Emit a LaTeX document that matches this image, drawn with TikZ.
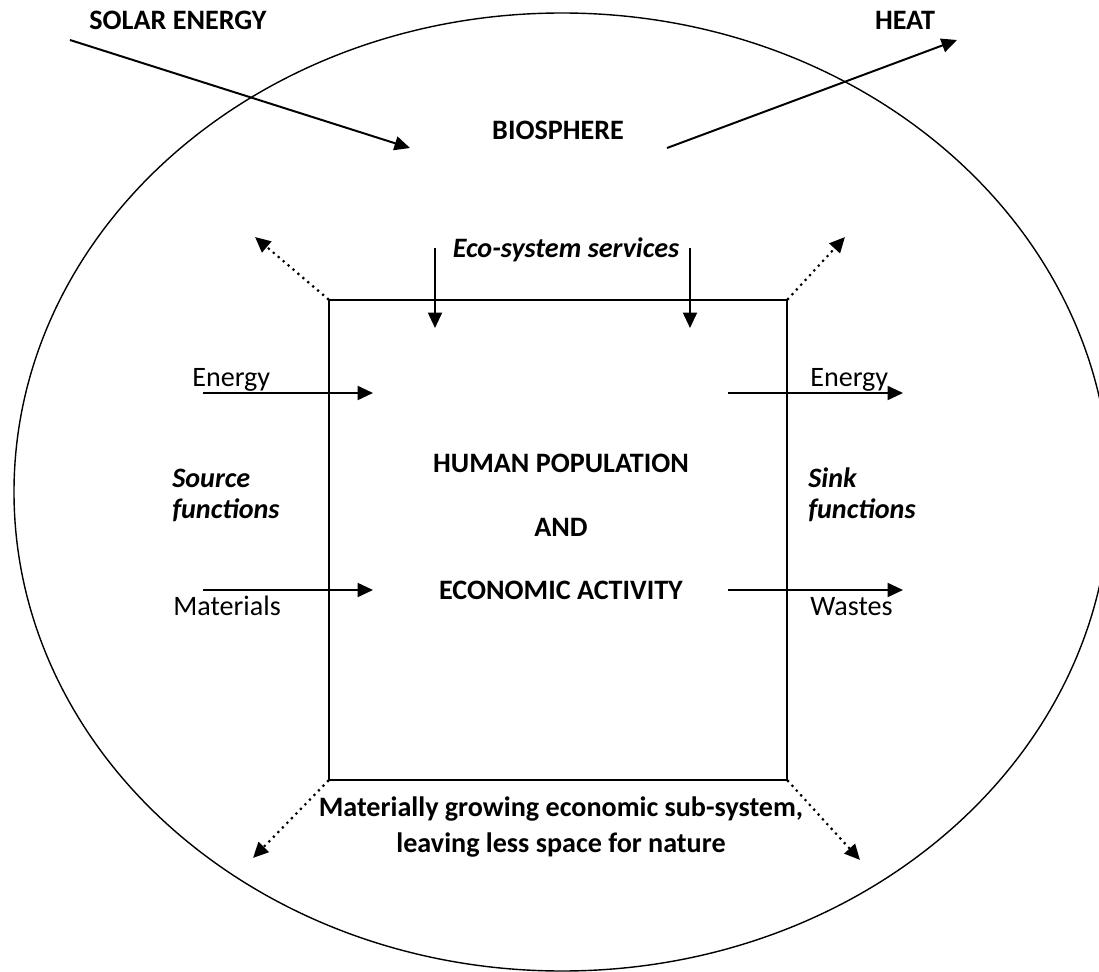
\documentclass[tikz,border=0pt]{standalone}
\usepackage{fontspec}
\setmainfont{Carlito}
\usetikzlibrary{arrows.meta}
\tikzset{
  flow/.style={line width=1.4pt,-{Triangle[length=11pt,width=10pt]}},
  leak/.style={line width=2.2pt,dash pattern=on 0pt off 4.6pt,line cap=round,
    -{Triangle[length=11pt,width=10pt]}},
  txt/.style={inner sep=0pt,font=\fontsize{20}{22}\selectfont},
  bold/.style={inner sep=0pt,font=\fontsize{20}{22}\selectfont\bfseries},
  boldit/.style={inner sep=0pt,font=\fontsize{20}{22}\selectfont\bfseries\itshape},
}
\begin{document}
\begin{tikzpicture}[x=0.025cm,y=-0.025cm]
  \useasboundingbox (0,0) rectangle (1099,972);
  % biosphere
  \draw[line width=1pt] (562,492) ellipse [x radius=548, y radius=479];
  \node[bold] (bio) at (558,130) {BIOSPHERE};
  % sun in, heat out
  \node[bold] (solar) at (178,20) {SOLAR ENERGY};
  \node[bold] (heat) at (905,20) {HEAT};
  \coordinate (sunin) at (70,40);
  \coordinate (sunout) at (410,148);
  \draw[flow] (sunin) -- (sunout);
  \coordinate (heatin) at (667,148);
  \coordinate (heatout) at (957,40);
  \draw[flow] (heatin) -- (heatout);
  % economy
  \node[draw,line width=1.4pt,minimum width=11.45cm,minimum height=12cm] (econ) at (558,540) {};
  \node[bold,align=center,font=\fontsize{20}{45}\selectfont\bfseries] (pop) at (561,527)
    {HUMAN POPULATION\\AND\\ECONOMIC ACTIVITY};
  \node[boldit] (eco) at (566,250) {Eco-system services};
  \foreach \x [count=\i] in {435,690}{
    \coordinate (eco\i a) at (\x,248);
    \coordinate (eco\i b) at (\x,328);
    \draw[flow] (eco\i a) -- (eco\i b);
  }
  % source side
  \node[txt,anchor=base west] (srcen) at (192,386) {Energy};
  \node[txt,anchor=base west] (srcmat) at (173,615) {Materials};
  \node[boldit,anchor=west,align=left] (src) at (172,495) {Source\\functions};
  % sink side
  \node[txt,anchor=base west] (snken) at (810,386) {Energy};
  \node[txt,anchor=base west] (snkwst) at (810,615) {Wastes};
  \node[boldit,anchor=west,align=left] (snk) at (808,495) {Sink\\functions};
  \foreach \y [count=\i] in {393,590}{
    \coordinate (in\i a) at (203,\y);
    \coordinate (in\i b) at (373,\y);
    \draw[flow] (in\i a) -- (in\i b);
    \coordinate (out\i a) at (728,\y);
    \coordinate (out\i b) at (903,\y);
    \draw[flow] (out\i a) -- (out\i b);
  }
  % growth
  \foreach \c/\x/\y in {north west/255/237, north east/845/237,
                        south west/253/858, south east/860/860}{
    \coordinate (grow) at (\x,\y);
    \draw[leak] (econ.\c) -- (grow);
  }
  \node[bold,align=center,font=\fontsize{20}{25.5}\selectfont\bfseries] (growth) at (561,827)
    {Materially growing economic sub-system,\\leaving less space for nature};
\end{tikzpicture}
\end{document}
